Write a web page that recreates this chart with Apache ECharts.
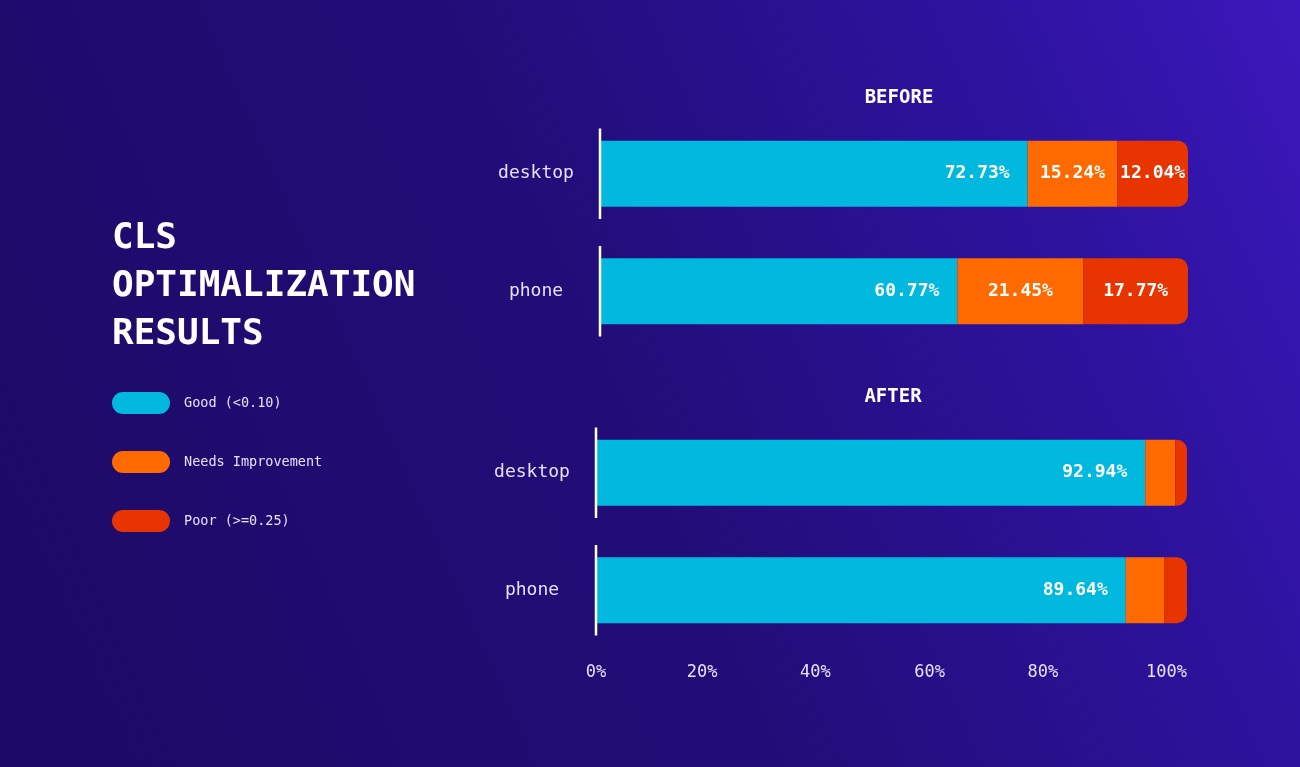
<!DOCTYPE html>
<html>
<head>
<meta charset="utf-8">
<script src="https://cdn.jsdelivr.net/npm/echarts@6/dist/echarts.min.js"></script>
<style>
  html, body { margin: 0; padding: 0; background: #1f0b6b; }
  #chart { width: 1300px; height: 767px; }
</style>
</head>
<body>
<div id="chart"></div>
<script>
// ---- data ----
const categories = ['desktop', 'phone'];
const seriesNames = ['Good (<0.10)', 'Needs Improvement', 'Poor (>=0.25)'];
const beforeGood = [72.73, 60.77];
const beforeNeeds = [15.24, 21.45];
const beforePoor = [12.04, 17.77];
const afterGood = [92.94, 89.64];
const afterNeeds = [5.08, 6.50];
const afterPoor = [1.98, 3.86];
const xTicks = [0, 20, 40, 60, 80, 100];
const panelTitles = ['BEFORE', 'AFTER'];
const mainTitle = 'CLS\nOPTIMALIZATION\nRESULTS';

// ---- styling ----
const MONO = "'DejaVu Sans Mono', 'Liberation Mono', monospace";
const colors = ['#01b9df', '#ff6a00', '#e83500'];
const lavender = '#e6e1ff';

const chart = echarts.init(document.getElementById('chart'), null, { renderer: 'canvas' });

function valLabel(p) {
  return p.value >= 10 ? p.value.toFixed(2) + '%' : '';
}

function barSeries(name, data, gridIdx, idx) {
  const isGood = idx === 0;
  const isLast = idx === 2;
  return {
    name: name,
    type: 'bar',
    stack: 'g' + gridIdx,
    xAxisIndex: gridIdx,
    yAxisIndex: gridIdx,
    barWidth: 66,
    data: data,
    itemStyle: { color: colors[idx], borderRadius: isLast ? [0, 10, 10, 0] : 0 },
    label: {
      show: true,
      position: isGood ? 'insideRight' : 'inside',
      distance: 18,
      formatter: valLabel,
      color: '#ffffff',
      fontFamily: MONO,
      fontWeight: 'bold',
      fontSize: 18
    },
    emphasis: { disabled: true }
  };
}

function dividerSeries(gridIdx) {
  return {
    type: 'custom',
    xAxisIndex: gridIdx,
    yAxisIndex: gridIdx,
    z: 10,
    silent: true,
    data: categories.map((c, i) => [0, i]),
    renderItem: function (params, api) {
      const p = api.coord([0, api.value(1)]);
      const band = api.size([0, 1])[1];
      const h = band * 0.385;
      return {
        type: 'line',
        shape: { x1: p[0], y1: p[1] - h, x2: p[0], y2: p[1] + h },
        style: { stroke: '#ffffff', lineWidth: 2.5 }
      };
    }
  };
}

const tickShift = { 0: 0, 20: 24, 40: 34, 60: 42, 80: 52, 100: 0 };
const rich = {};
xTicks.forEach(t => {
  rich['t' + t] = {
    fontFamily: MONO, fontSize: 17, color: lavender,
    padding: [0, tickShift[t], 0, 0]
  };
});

const option = {
  backgroundColor: {
    type: 'linear', x: 0, y: 0.75, x2: 1, y2: 0,
    colorStops: [
      { offset: 0, color: '#1d0a66' },
      { offset: 0.45, color: '#220d78' },
      { offset: 0.8, color: '#2e13a0' },
      { offset: 1, color: '#3b18bb' }
    ]
  },
  animation: false,
  title: [
    {
      text: mainTitle, left: 107, top: 210,
      textStyle: { fontFamily: MONO, fontWeight: 'bold', fontSize: 36, lineHeight: 48, color: '#ffffff' }
    },
    {
      text: panelTitles[0], left: 894, top: 84, textAlign: 'center',
      textStyle: { fontFamily: MONO, fontWeight: 'bold', fontSize: 19, color: '#ffffff' }
    },
    {
      text: panelTitles[1], left: 888, top: 383, textAlign: 'center',
      textStyle: { fontFamily: MONO, fontWeight: 'bold', fontSize: 19, color: '#ffffff' }
    }
  ],
  legend: {
    data: seriesNames,
    orient: 'vertical',
    left: 107,
    top: 387,
    itemWidth: 58,
    itemHeight: 22,
    itemGap: 37,
    icon: 'path://M11,0 H47 A11,11 0 0 1 47,22 H11 A11,11 0 0 1 11,0 Z',
    textStyle: { fontFamily: MONO, fontSize: 13.5, color: lavender, padding: [0, 0, 0, 9] },
    selectedMode: false
  },
  grid: [
    { left: 600, right: 112, top: 115, height: 235 },
    { left: 596, right: 113, top: 414, height: 235 }
  ],
  xAxis: [
    { gridIndex: 0, type: 'value', min: 0, max: 100, show: false },
    {
      gridIndex: 1, type: 'value', min: 0, max: 100, interval: 20,
      axisLine: { show: false }, axisTick: { show: false }, splitLine: { show: false },
      axisLabel: {
        margin: 15,
        alignMinLabel: 'center', alignMaxLabel: 'right',
        formatter: v => '{t' + v + '|' + v + '%}',
        rich: rich,
        fontFamily: MONO, fontSize: 17, color: lavender
      }
    }
  ],
  yAxis: [0, 1].map(g => ({
    gridIndex: g, type: 'category', data: categories, inverse: true,
    axisLine: { show: false }, axisTick: { show: false },
    axisLabel: { align: 'center', margin: 64, fontFamily: MONO, fontSize: 18, color: lavender }
  })),
  series: [
    barSeries(seriesNames[0], beforeGood, 0, 0),
    barSeries(seriesNames[1], beforeNeeds, 0, 1),
    barSeries(seriesNames[2], beforePoor, 0, 2),
    barSeries(seriesNames[0], afterGood, 1, 0),
    barSeries(seriesNames[1], afterNeeds, 1, 1),
    barSeries(seriesNames[2], afterPoor, 1, 2),
    dividerSeries(0),
    dividerSeries(1)
  ]
};

chart.setOption(option);
</script>
</body>
</html>
